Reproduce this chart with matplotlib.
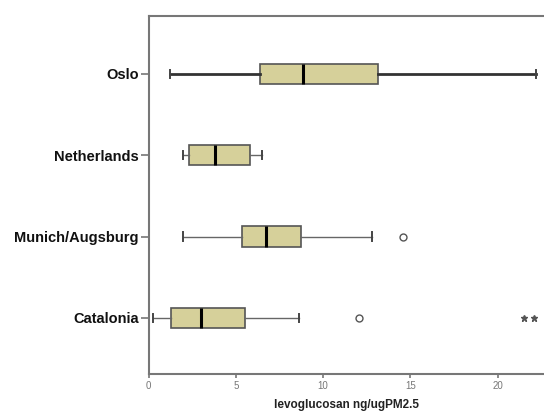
import matplotlib.pyplot as plt

plt.rcParams['font.family'] = ['Liberation Sans', 'DejaVu Sans']

# boxplot summary (bottom to top)
sites = ["Catalonia", "Munich/Augsburg", "Netherlands", "Oslo"]
whislo = [0.23, 1.95, 1.95, 1.25]
q1 = [1.26, 5.34, 2.30, 6.37]
med = [2.98, 6.71, 3.79, 8.83]
q3 = [5.51, 8.72, 5.80, 13.14]
whishi = [8.63, 12.82, 6.48, 22.18]
circles = [[12.05], [14.57], [], []]
stars = [[21.5, 22.1], [], [], []]

box_color = "#d6d09a"
edge = "#555555"

stats = []
for i, s in enumerate(sites):
    stats.append({"label": s, "whislo": whislo[i], "q1": q1[i], "med": med[i],
                  "q3": q3[i], "whishi": whishi[i], "fliers": []})

fig = plt.figure(figsize=(5.44, 4.11), dpi=100)
ax = fig.add_axes([0.273, 0.09, 0.727, 0.871])

pos = list(range(1, len(sites) + 1))
bp = ax.bxp(stats, positions=pos, vert=False, widths=0.25, patch_artist=True,
            showfliers=False,
            boxprops=dict(facecolor=box_color, edgecolor=edge, linewidth=1.2),
            medianprops=dict(color="black", linewidth=2.2),
            whiskerprops=dict(color="#666666", linewidth=1.0),
            capprops=dict(color="#444444", linewidth=1.4))
for c in bp["caps"]:
    y = c.get_ydata()
    m = (y[0] + y[1]) / 2
    c.set_ydata([m - 0.05, m + 0.05])

# Oslo whiskers are drawn heavier in the original
for w in bp["whiskers"][6:8]:
    w.set_linewidth(2.0)
    w.set_color("#333333")

for i, p in enumerate(pos):
    if circles[i]:
        ax.plot(circles[i], [p] * len(circles[i]), "o", mfc="white", mec="#555555",
                ms=5, mew=1.0, linestyle="none")
    if stars[i]:
        ax.plot(stars[i], [p] * len(stars[i]), "*", color="#555555", ms=4.5,
                linestyle="none")

ax.set_xlim(0, 22.65)
ax.set_ylim(0.31, 4.71)
ax.set_yticks(pos)
ax.set_yticklabels(sites, fontsize=10.5, fontweight="bold", color="#111111")
ax.set_xticks([0, 5, 10, 15, 20])
ax.tick_params(axis="x", labelsize=7, colors="#777777", length=3, width=1.2, pad=2)
ax.tick_params(axis="y", length=6, width=1.2, color="#777777", pad=1)
ax.set_xlabel("levoglucosan ng/ugPM2.5", fontsize=8.5, fontweight="bold",
              color="#222222", labelpad=6)

ax.spines["right"].set_visible(False)
for sp in ["left", "top", "bottom"]:
    ax.spines[sp].set_color("#777777")
    ax.spines[sp].set_linewidth(1.5)

fig.savefig("out.png", dpi=100)
